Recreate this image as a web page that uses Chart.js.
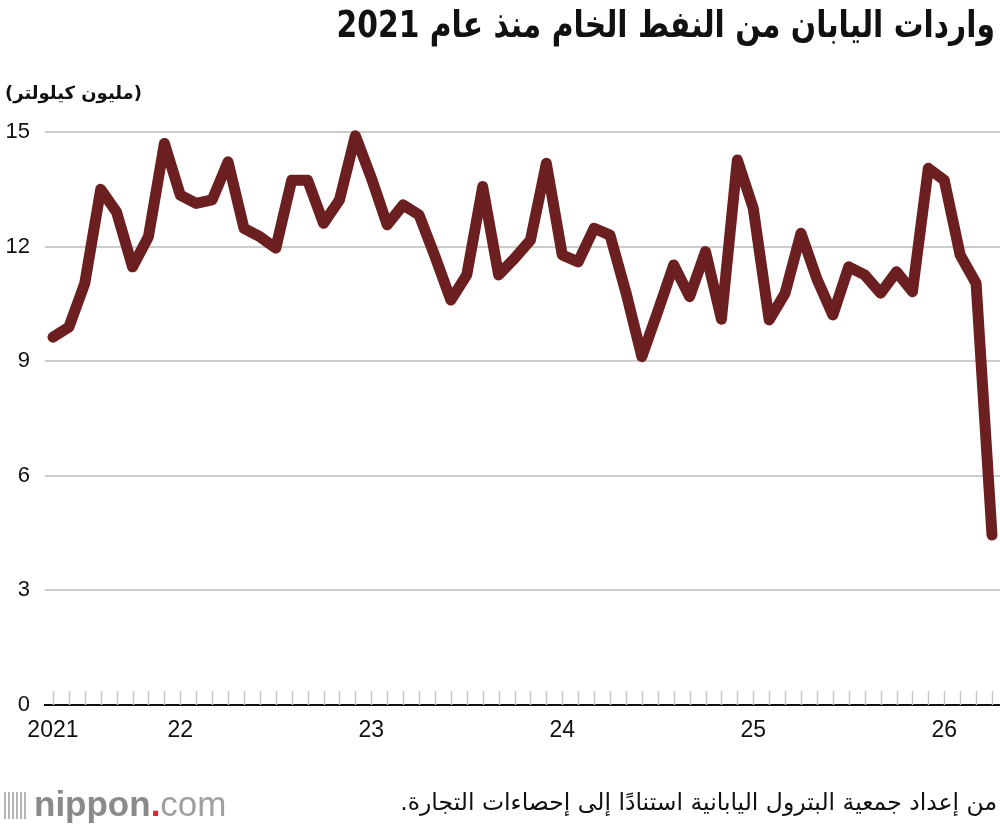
<!DOCTYPE html>
<html>
<head>
<meta charset="utf-8">
<script src="https://cdn.jsdelivr.net/npm/chart.js@4/dist/chart.umd.min.js"></script>
<style>
  html, body { margin: 0; padding: 0; background: #fff; }
  #wrap { position: relative; width: 1000px; height: 828px; overflow: hidden; }
  #chart { position: absolute; left: 0; top: 0; }
  .ar { position: absolute; direction: rtl; font-family: "DejaVu Sans", sans-serif; color: #111; white-space: nowrap; }
  #title { right: 5px; top: 3px; font-size: 37px; font-weight: bold; transform: scaleX(0.805); transform-origin: right center; }
  #unit { left: 5px; top: 82px; font-size: 18px; font-weight: bold; }
  #source { right: 3px; top: 788px; font-size: 23.5px; }
  #logo { position: absolute; left: 4px; top: 784px; font-family: "Liberation Sans", Arial, sans-serif; font-size: 35px; color: #8a8a8a; white-space: nowrap; }
  #logo .bars { display: inline-block; width: 22px; height: 27px; margin-right: 8px; vertical-align: -3px;
    background: repeating-linear-gradient(90deg, #b5b5b5 0 2px, transparent 2px 4px); }
  #logo b { font-weight: bold; color: #8a8a8a; }
  #logo .dot { color: #d7282f; font-weight: bold; }
  #logo .com { color: #a0a0a0; font-weight: normal; }
</style>
</head>
<body>
<div id="wrap">
  <canvas id="chart" width="1004" height="828"></canvas>
  <div id="title" class="ar">واردات اليابان من النفط الخام منذ عام 2021</div>
  <div id="unit" class="ar">(مليون كيلولتر)</div>
  <div id="source" class="ar">من إعداد جمعية البترول اليابانية استنادًا إلى إحصاءات التجارة.</div>
  <div id="logo"><span class="bars"></span><b>nippon</b><span class="dot">.</span><span class="com">com</span></div>
</div>
<script>
// months shown on the chart (May 2021 - Apr 2026)
const categories = [
  "2021-05", "2021-06", "2021-07", "2021-08", "2021-09", "2021-10", "2021-11", "2021-12",
  "2022-01", "2022-02", "2022-03", "2022-04", "2022-05", "2022-06", "2022-07", "2022-08",
  "2022-09", "2022-10", "2022-11", "2022-12",
  "2023-01", "2023-02", "2023-03", "2023-04", "2023-05", "2023-06", "2023-07", "2023-08",
  "2023-09", "2023-10", "2023-11", "2023-12",
  "2024-01", "2024-02", "2024-03", "2024-04", "2024-05", "2024-06", "2024-07", "2024-08",
  "2024-09", "2024-10", "2024-11", "2024-12",
  "2025-01", "2025-02", "2025-03", "2025-04", "2025-05", "2025-06", "2025-07", "2025-08",
  "2025-09", "2025-10", "2025-11", "2025-12",
  "2026-01", "2026-02", "2026-03", "2026-04",
];

// crude oil imports, million kilolitres
const imports = [
  9.63, 9.89, 11.04, 13.5, 12.9, 11.47, 12.26, 14.7, 13.35, 13.13,
  13.22, 14.22, 12.48, 12.26, 11.96, 13.74, 13.74, 12.61, 13.22, 14.9,
  13.8, 12.57, 13.09, 12.83, 11.75, 10.6, 11.26, 13.57, 11.26, 11.69,
  12.17, 14.18, 11.78, 11.6, 12.48, 12.3, 10.8, 9.12, 10.3, 11.52,
  10.69, 11.87, 10.1, 14.27, 13.0, 10.08, 10.78, 12.35, 11.15, 10.21,
  11.47, 11.26, 10.78, 11.34, 10.82, 14.05, 13.74, 11.78, 11.04, 4.45,
];

// year labels under the axis, keyed by category
const yearLabels = {
  "2021-05": "2021",
  "2022-01": "22",
  "2023-01": "23",
  "2024-01": "24",
  "2025-01": "25",
  "2026-01": "26",
};

const yTicks = [0, 3, 6, 9, 12, 15];

// small month ticks sitting on top of the x axis
const monthTicks = {
  id: "monthTicks",
  afterDatasetsDraw(chart) {
    const { ctx, scales } = chart;
    const bottom = chart.chartArea.bottom;
    ctx.save();
    ctx.strokeStyle = "#c8c8c8";
    ctx.lineWidth = 1.5;
    categories.forEach((_, i) => {
      const x = Math.round(scales.x.getPixelForValue(i)) + 0.5;
      ctx.beginPath();
      ctx.moveTo(x, bottom - 14);
      ctx.lineTo(x, bottom);
      ctx.stroke();
    });
    ctx.restore();
  },
};

const ctx = document.getElementById("chart").getContext("2d");
new Chart(ctx, {
  type: "line",
  data: {
    labels: categories,
    datasets: [
      {
        data: imports,
        borderColor: "#6c1f20",
        borderWidth: 11,
        borderJoinStyle: "round",
        borderCapStyle: "round",
        pointRadius: 0,
        tension: 0,
        clip: false,
      },
    ],
  },
  options: {
    responsive: false,
    animation: false,
    layout: { padding: { top: 132, bottom: 83, left: 0, right: 0 } },
    scales: {
      x: {
        offset: true,
        grid: { display: false, drawTicks: false },
        border: { display: true, color: "#111", width: 2 },
        afterFit: (scale) => { scale.height = 40; },
        ticks: {
          autoSkip: false,
          maxRotation: 0,
          padding: 12,
          color: "#111",
          font: { family: "Liberation Sans", size: 23 },
          callback: (value) => yearLabels[categories[value]] || "",
        },
      },
      y: {
        min: 0,
        max: 15,
        afterFit: (scale) => { scale.width = 45; },
        afterBuildTicks: (scale) => { scale.ticks = yTicks.map((v) => ({ value: v })); },
        grid: { color: "#cccccc", lineWidth: 2, drawTicks: false },
        border: { display: false },
        ticks: {
          padding: 15,
          color: "#111",
          font: { family: "Liberation Sans", size: 22 },
        },
      },
    },
    plugins: {
      legend: { display: false },
      tooltip: { enabled: false },
    },
  },
  plugins: [monthTicks],
});
</script>
</body>
</html>
